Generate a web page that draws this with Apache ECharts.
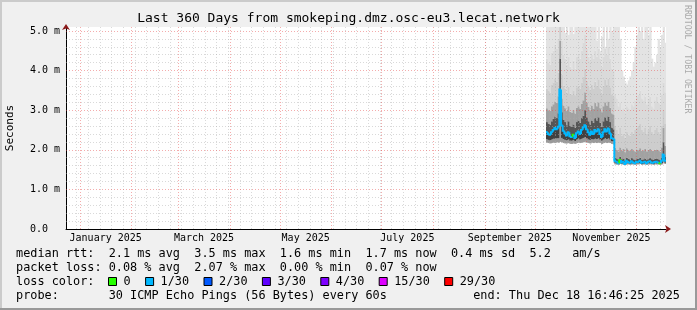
<!DOCTYPE html>
<html><head><meta charset="utf-8">
<script src="https://cdn.jsdelivr.net/npm/echarts@6/dist/echarts.min.js"></script>
<style>html,body{margin:0;padding:0;background:#f0f0f0}#c{width:697px;height:310px}</style>
</head><body><div id="c"></div>
<script>
// ---------- data ----------
const graphStart = '2024-12-23T16:46:25Z';
const graphEnd = '2025-12-18T16:46:25Z';
const firstBinStart = '2025-10-07T16:46:25Z'; // one bin per day
const titleText = 'Last 360 Days from smokeping.dmz.osc-eu3.lecat.network';
const yAxisName = 'Seconds';
const yTickLabels = ['0.0', '1.0 m', '2.0 m', '3.0 m', '4.0 m', '5.0 m'];
const xTickLabels = ['January 2025', 'March 2025', 'May 2025', 'July 2025', 'September 2025', 'November 2025'];
const xLabelMonths = [['2025-01-01','2025-02-01'],['2025-03-01','2025-04-01'],['2025-05-01','2025-06-01'],['2025-07-01','2025-08-01'],['2025-09-01','2025-10-01'],['2025-11-01','2025-12-01']];
const monthStarts = ['2025-01-01','2025-02-01','2025-03-01','2025-04-01','2025-05-01','2025-06-01','2025-07-01','2025-08-01','2025-09-01','2025-10-01','2025-11-01','2025-12-01'];
const firstMonday = '2024-12-30';

// smoke layers in ms (min, lower, median, upper bands..., max)
const smokeMin = [2.18,2.17,2.16,2.17,2.18,2.17,2.19,2.18,2.20,2.19,2.17,2.16,2.16,2.17,2.15,2.15,2.16,2.15,2.17,2.18,2.17,2.18,2.19,2.20,2.18,2.17,2.16,2.18,2.17,2.18,2.17,2.18,2.17,2.15,2.17,2.18,2.17,2.18,2.17,2.15,2.14,
  1.63,1.63,1.62,1.64,1.63,1.63,1.62,1.63,1.63,1.62,1.63,1.63,1.62,1.63,1.63,1.64,1.62,1.63,1.63,1.62,1.63,1.63,1.63,1.62,1.63,1.63,1.63,1.62,1.63,1.68,1.64];
const smokeLow = [2.27,2.25,2.24,2.26,2.28,2.28,2.29,2.29,2.62,2.30,2.27,2.25,2.24,2.26,2.23,2.23,2.25,2.22,2.26,2.28,2.26,2.28,2.30,2.32,2.29,2.26,2.25,2.27,2.26,2.28,2.27,2.29,2.26,2.23,2.26,2.29,2.27,2.29,2.26,2.22,2.21,
  1.66,1.66,1.64,1.67,1.65,1.66,1.63,1.66,1.66,1.64,1.66,1.65,1.64,1.66,1.66,1.67,1.64,1.65,1.66,1.64,1.66,1.66,1.65,1.64,1.66,1.66,1.65,1.64,1.66,1.76,1.67];
const smokeMedian = [2.45,2.40,2.38,2.44,2.50,2.55,2.52,2.58,3.52,2.62,2.48,2.42,2.36,2.44,2.34,2.32,2.38,2.30,2.42,2.46,2.40,2.50,2.56,2.62,2.52,2.44,2.38,2.46,2.40,2.50,2.46,2.52,2.40,2.32,2.44,2.52,2.46,2.54,2.42,2.30,2.28,
  1.72,1.70,1.66,1.74,1.68,1.70,1.64,1.72,1.69,1.67,1.71,1.68,1.66,1.70,1.69,1.72,1.67,1.68,1.70,1.66,1.69,1.71,1.68,1.67,1.69,1.70,1.68,1.66,1.72,1.88,1.72];
const smokeUp1 = [2.70,2.66,2.64,2.72,2.78,2.84,2.80,2.92,4.30,2.95,2.76,2.70,2.62,2.72,2.60,2.58,2.64,2.56,2.70,2.74,2.68,2.80,2.86,3.00,2.82,2.72,2.64,2.74,2.68,2.80,2.74,2.82,2.68,2.58,2.72,2.82,2.74,2.84,2.70,2.56,2.52,
  1.80,1.78,1.74,1.82,1.76,1.78,1.72,1.80,1.77,1.75,1.79,1.76,1.74,1.78,1.77,1.80,1.75,1.76,1.78,1.74,1.77,1.79,1.76,1.75,1.77,1.78,1.76,1.74,1.80,2.20,1.82];
const smokeUp2 = [3.05,3.00,2.98,3.10,3.15,3.22,3.18,3.35,4.75,3.30,3.12,3.05,2.98,3.10,2.96,2.94,3.00,2.92,3.06,3.10,3.04,3.16,3.25,3.45,3.20,3.08,3.00,3.12,3.04,3.18,3.10,3.20,3.05,2.95,3.10,3.20,3.12,3.22,3.06,2.92,2.88,
  2.05,2.00,1.96,2.06,1.98,2.02,1.94,2.04,1.99,1.97,2.02,1.98,1.96,2.01,1.99,2.04,1.97,1.99,2.02,1.96,2.00,2.02,1.98,1.97,2.00,2.01,1.99,1.96,2.06,2.55,2.10];
const smokeUp3 = [3.55,3.50,3.45,3.65,3.70,3.80,3.72,3.95,5.20,3.90,3.62,3.55,3.45,3.60,3.42,3.40,3.50,3.38,3.58,3.62,3.55,3.70,3.85,4.05,3.75,3.60,3.50,3.65,3.55,3.72,3.62,3.78,3.55,3.42,3.62,3.78,3.65,3.80,3.58,3.40,3.35,
  2.60,2.50,2.40,2.55,2.35,2.40,2.30,2.45,2.38,2.35,2.45,2.40,2.50,2.55,2.60,2.65,2.50,2.45,2.55,2.40,2.50,2.60,2.45,2.40,2.50,2.55,2.45,2.40,2.60,3.00,2.65];
const smokeUp4 = [4.30,4.20,4.15,4.45,4.50,4.65,4.55,4.80,5.50,4.75,4.40,4.30,4.15,4.35,4.10,4.05,4.25,4.05,4.35,4.40,4.30,4.50,4.70,4.90,4.55,4.35,4.25,4.40,4.30,4.50,4.35,4.55,4.30,4.10,4.35,4.55,4.40,4.60,4.30,4.05,4.00,
  3.40,3.30,3.10,3.20,3.00,3.05,2.95,3.10,3.05,3.00,3.15,3.10,3.25,3.35,3.40,3.50,3.30,3.25,3.35,3.15,3.30,3.35,3.10,3.05,3.25,3.35,3.20,3.15,3.40,3.70,3.45];
const smokeMax = [5.6,5.6,5.6,5.6,5.6,5.6,5.6,5.6,5.6,5.6,5.6,4.95,5.6,4.90,5.6,5.6,4.92,5.6,5.6,5.6,5.6,5.6,5.6,5.6,5.6,5.6,5.6,5.6,5.6,5.6,4.75,5.6,4.50,4.85,5.6,4.60,5.6,4.80,5.6,5.0,5.6,
  5.6,5.6,5.3,4.8,4.0,3.85,3.7,3.65,3.75,3.85,4.0,4.2,4.6,4.9,5.6,5.0,5.6,4.8,5.6,5.6,4.9,5.6,4.3,4.1,4.2,4.4,4.8,4.6,4.9,5.6,4.7];
// packet loss per bin (%)
const lossPct = [0.05,0.07,0.03,0.10,0.07,0.05,0.12,0.07,2.07,0.10,0.05,0.03,0.07,0.05,0.10,0.07,0,0.05,0.07,0.03,0.05,0.07,0.10,0.12,0.07,0.05,0.03,0.07,0.05,0.03,0.07,0.10,0.05,0.07,0.03,0.05,0.07,0.10,0.05,0.07,0.03,
  0.03,0.05,0.07,0,0.05,0.03,0.07,0.05,0.03,0.05,0.07,0.03,0.05,0.07,0.05,0.03,0.05,0.07,0.05,0.03,0.07,0.05,0.03,0.05,0.07,0.05,0.03,0,0.05,0.10,0.07];
const lossLegend = ['0', '1/30', '2/30', '3/30', '4/30', '15/30', '29/30'];
const lossThresholds = [0, 1, 2, 3, 4, 15, 29];
const lossColors = ['#26ff00', '#00b8ff', '#0059ff', '#5e00ff', '#7e00ff', '#dd00ff', '#ff0000'];
const statLines = [
  'median rtt:  2.1 ms avg  3.5 ms max  1.6 ms min  1.7 ms now  0.4 ms sd  5.2   am/s',
  'packet loss: 0.08 % avg  2.07 % max  0.00 % min  0.07 % now',
  'loss color:',
  'probe:       30 ICMP Echo Pings (56 Bytes) every 60s'
];
const endText = 'end: Thu Dec 18 16:46:25 2025';
const creditText = 'RRDTOOL / TOBI OETIKER';

// ---------- build ----------
const DAY = 86400000;
const t0 = Date.parse(graphStart), t1 = Date.parse(graphEnd), tb = Date.parse(firstBinStart);
const binTimes = smokeMedian.map((_, i) => tb + (i + 0.5) * DAY);
const monthTimes = monthStarts.map(d => Date.parse(d + 'T00:00:00Z'));
const labelTimes = xLabelMonths.map(p => (Date.parse(p[0] + 'T00:00:00Z') + Date.parse(p[1] + 'T00:00:00Z')) / 2);
const weekTimes = [];
for (let t = Date.parse(firstMonday + 'T00:00:00Z'); t < t1; t += 7 * DAY) weekTimes.push(t);

const MONO = '"DejaVu Sans Mono", monospace';
const YMAX = 5.1;
const LFONT = '11.85px ' + MONO;

function lossColor(p) {
  const pings = p / 100 * 30;
  if (pings === 0) return lossColors[0];
  for (let k = 1; k < lossThresholds.length; k++) if (pings <= lossThresholds[k]) return lossColors[k];
  return lossColors[lossColors.length - 1];
}

const layers = [smokeMin, smokeLow, smokeMedian, smokeUp1, smokeUp2, smokeUp3, smokeUp4, smokeMax];
const layerColors = [null, '#9a9a9a', '#404040', '#555555', '#a2a2a2', '#cdcdcd', '#dadada', '#e3e3e3'];

const smokeSeries = {
  type: 'custom', z: 2, silent: true, clip: true,
  encode: { x: 0, y: 1 },
  data: binTimes.map((t, i) => [t, smokeMedian[i]]),
  renderItem: function (params, api) {
    const i = params.dataIndex;
    const x = api.value(0);
    const children = [];
    for (let k = 1; k < layers.length; k++) {
      const a = api.coord([x - 0.5 * DAY, layers[k][i]]);
      const b = api.coord([x + 0.5 * DAY, layers[k - 1][i]]);
      children.push({ type: 'rect', shape: { x: a[0], y: a[1], width: b[0] - a[0] + 0.6, height: b[1] - a[1] }, style: { fill: layerColors[k] } });
    }
    return { type: 'group', children: children };
  }
};

const GREY = 'rgba(170,170,170,0.45)', RED = 'rgba(230,70,70,0.45)';
const gridLineData = [];
weekTimes.forEach(t => gridLineData.push({ xAxis: t, lineStyle: { color: GREY, type: [1, 2], width: 1 } }));
for (let v = 0.2; v < YMAX; v += 0.2) {
  const r = Math.round(v * 10) / 10;
  if (Math.abs(r - Math.round(r)) > 1e-6) gridLineData.push({ yAxis: r, lineStyle: { color: GREY, type: [1, 2], width: 1 } });
}
monthTimes.forEach(t => gridLineData.push({ xAxis: t, lineStyle: { color: RED, type: [1, 2], width: 1 } }));
[1, 2, 3, 4, 5].forEach(v => gridLineData.push({ yAxis: v, lineStyle: { color: RED, type: [1, 2], width: 1 } }));

const gridSeries = {
  type: 'line', data: [], z: 3, silent: true,
  markLine: { silent: true, symbol: ['none', 'none'], animation: false, label: { show: false }, data: gridLineData }
};

const medianSeries = {
  type: 'custom', z: 5, silent: true, clip: true,
  encode: { x: 0, y: 1 },
  data: smokeMedian.map((m, i) => [binTimes[i], m, lossPct[i]]),
  renderItem: function (params, api) {
    const i = params.dataIndex;
    const x = api.value(0), m = api.value(1);
    const p0 = api.coord([x - 0.5 * DAY, m]);
    const p1 = api.coord([x + 0.5 * DAY, m]);
    const pts = [];
    if (i > 0) pts.push(api.coord([x - 0.5 * DAY, smokeMedian[i - 1]]));
    pts.push(p0, p1);
    return { type: 'polyline', shape: { points: pts }, style: { stroke: lossColor(api.value(2)), lineWidth: 2, fill: null } };
  }
};

// legend graphics
const graphics = [
  { type: 'rect', shape: { x: 0, y: 0, width: 697, height: 2 }, style: { fill: '#cbcbcb' } },
  { type: 'rect', shape: { x: 0, y: 0, width: 2, height: 310 }, style: { fill: '#cbcbcb' } },
  { type: 'rect', shape: { x: 695, y: 0, width: 2, height: 310 }, style: { fill: '#999999' } },
  { type: 'rect', shape: { x: 0, y: 308, width: 697, height: 2 }, style: { fill: '#999999' } },
  { type: 'text', x: 687, y: 5, rotation: -Math.PI / 2, style: { text: creditText, font: '8.2px ' + MONO, fill: '#aaaaaa', textAlign: 'left', textVerticalAlign: 'middle' } }
];
const rowY = [254, 268, 282, 296];
statLines.forEach((s, r) => graphics.push({ type: 'text', x: 16, y: rowY[r], style: { text: s, font: LFONT, fill: '#000', textAlign: 'left', textVerticalAlign: 'middle' } }));
graphics.push({ type: 'text', x: 680, y: rowY[3], style: { text: endText, font: LFONT, fill: '#000', textAlign: 'right', textVerticalAlign: 'middle' } });
let bx = 108;
const CW = 7.1;
lossLegend.forEach((lab, k) => {
  graphics.push({ type: 'rect', shape: { x: bx + 0.5, y: rowY[2] - 4.5, width: 8, height: 8 }, style: { fill: lossColors[k], stroke: '#000', lineWidth: 1 } });
  graphics.push({ type: 'text', x: bx + 15.5, y: rowY[2], style: { text: lab, font: LFONT, fill: '#000', textAlign: 'left', textVerticalAlign: 'middle' } });
  bx += 15.5 + lab.length * CW + 14.5;
});

const chart = echarts.init(document.getElementById('c'), null, { renderer: 'canvas' });
chart.setOption({
  animation: false,
  backgroundColor: '#f0f0f0',
  textStyle: { fontFamily: MONO },
  title: { text: titleText, left: 'center', top: 12, padding: 0, textStyle: { fontFamily: MONO, fontSize: 13, fontWeight: 'normal', color: '#000' } },
  grid: { left: 66, top: 27, width: 600, height: 202, show: true, backgroundColor: '#ffffff', borderWidth: 0, containLabel: false, outerBoundsMode: 'none' },
  xAxis: [{
    type: 'value', min: t0, max: t1, position: 'bottom',
    axisLine: { show: true, lineStyle: { color: '#000', width: 1 } },
    axisTick: { show: false }, splitLine: { show: false },
    axisLabel: {
      show: true, customValues: labelTimes, margin: 4, fontSize: 10, fontFamily: MONO, color: '#000',
      formatter: v => { let b = 0; labelTimes.forEach((t, k) => { if (Math.abs(t - v) < Math.abs(labelTimes[b] - v)) b = k; }); return xTickLabels[b]; }
    }
  }, {
    type: 'value', min: t0, max: t1, position: 'bottom', offset: 0,
    axisLine: { show: true, symbol: ['none', 'arrow'], symbolSize: [6, 6], symbolOffset: [0, 5], lineStyle: { color: '#8b1a1a', width: 0 } },
    axisTick: { show: false }, axisLabel: { show: false }, splitLine: { show: false }
  }],
  yAxis: [{
    type: 'value', min: 0, max: YMAX, interval: 1, position: 'left',
    name: yAxisName, nameLocation: 'middle', nameGap: 50, nameRotate: 90,
    nameTextStyle: { fontFamily: MONO, fontSize: 11, color: '#000' },
    axisLine: { show: true, lineStyle: { color: '#000', width: 1 } },
    axisTick: { show: false }, splitLine: { show: false },
    axisLabel: {
      align: 'left', margin: 36, fontSize: 10, fontFamily: MONO, color: '#000',
      formatter: v => (Math.abs(v - Math.round(v)) < 1e-6 && yTickLabels[Math.round(v)] !== undefined) ? yTickLabels[Math.round(v)] : ''
    }
  }, {
    type: 'value', min: 0, max: YMAX, position: 'left', offset: 0,
    axisLine: { show: true, symbol: ['none', 'arrow'], symbolSize: [6, 6], symbolOffset: [0, 3], lineStyle: { color: '#8b1a1a', width: 0 } },
    axisTick: { show: false }, axisLabel: { show: false }, splitLine: { show: false }
  }],
  series: [smokeSeries, gridSeries, medianSeries],
  graphic: graphics
});
</script></body></html>
